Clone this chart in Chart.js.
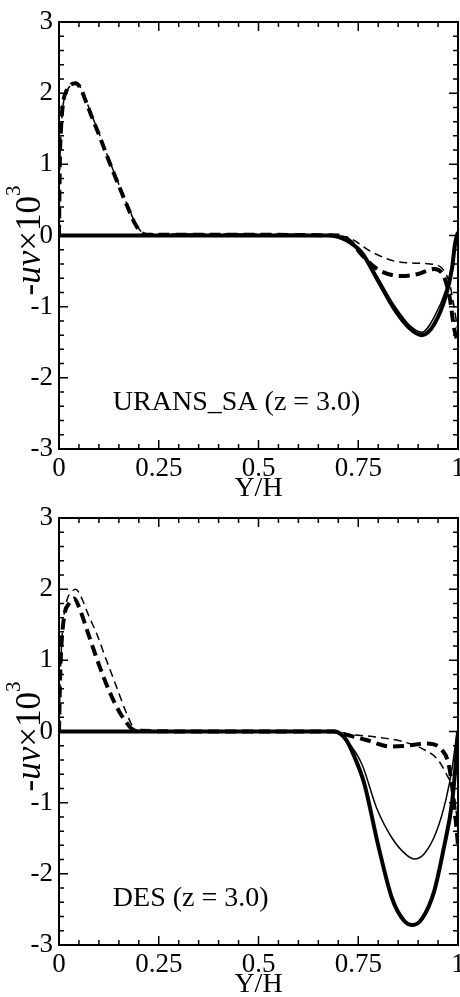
<!DOCTYPE html>
<html>
<head>
<meta charset="utf-8">
<script src="https://cdn.jsdelivr.net/npm/chart.js@4.4.1/dist/chart.umd.min.js"></script>
<style>
  html, body { margin: 0; padding: 0; background: #fff; }
  .panel { position: absolute; left: 0; width: 460px; height: 500px; }
</style>
</head>
<body>
<div class="panel" style="top:0"><canvas id="chartSA"></canvas></div>
<div class="panel" style="top:496px"><canvas id="chartDES"></canvas></div>
<script>
// Axis tick labels
const xTickLabels = ['0', '0.25', '0.5', '0.75', '1'];
const yTickLabels = ['-3', '-2', '-1', '0', '1', '2', '3'];

// URANS_SA profiles, -uv x 10^3 against Y/H
const saThickSolidX = [0, 0.2, 0.4, 0.6, 0.68, 0.71, 0.73, 0.76, 0.8, 0.84, 0.88, 0.91, 0.94, 0.97, 0.985, 0.993, 1.0];
const saThickSolidY = [0, 0, 0, 0, 0, -0.04, -0.1, -0.25, -0.64, -1.03, -1.31, -1.4, -1.25, -0.84, -0.46, -0.1, 0.05];
const saThinSolidX = [0, 0.2, 0.4, 0.6, 0.68, 0.71, 0.73, 0.76, 0.8, 0.84, 0.88, 0.91, 0.94, 0.97, 0.985, 0.995, 1.0];
const saThinSolidY = [0, 0, 0, 0, 0, -0.04, -0.1, -0.24, -0.6, -0.98, -1.27, -1.36, -1.15, -0.76, -0.42, -0.1, 0.05];
const saThickDashX = [0, 0.002, 0.005, 0.01, 0.02, 0.03, 0.042, 0.055, 0.065, 0.08, 0.1, 0.125, 0.15, 0.175, 0.19, 0.205, 0.22, 0.4, 0.7, 0.73, 0.76, 0.8, 0.86, 0.9, 0.94, 0.965, 0.98, 0.99, 1.0];
const saThickDashY = [0, 1.0, 1.5, 1.85, 2.05, 2.12, 2.14, 2.06, 1.92, 1.7, 1.42, 1.05, 0.7, 0.36, 0.17, 0.05, 0.01, 0.01, 0, -0.08, -0.28, -0.48, -0.57, -0.54, -0.47, -0.58, -0.9, -1.3, -1.5];
const saThinDashX = [0, 0.002, 0.005, 0.01, 0.02, 0.03, 0.042, 0.055, 0.065, 0.08, 0.1, 0.125, 0.15, 0.175, 0.19, 0.205, 0.22, 0.4, 0.7, 0.73, 0.78, 0.84, 0.9, 0.93, 0.96, 0.98, 0.99, 1.0];
const saThinDashY = [0, 0.95, 1.45, 1.82, 2.03, 2.11, 2.13, 2.07, 1.94, 1.72, 1.44, 1.07, 0.72, 0.38, 0.19, 0.06, 0.02, 0.02, 0, -0.04, -0.22, -0.36, -0.39, -0.4, -0.46, -0.7, -1.0, -1.35];

// DES profiles
const desThickSolidX = [0, 0.2, 0.4, 0.6, 0.69, 0.72, 0.74, 0.765, 0.8, 0.835, 0.865, 0.886, 0.91, 0.94, 0.965, 0.985, 0.995, 1.0];
const desThickSolidY = [0, 0, 0, 0, 0, -0.12, -0.35, -0.73, -1.6, -2.35, -2.66, -2.72, -2.63, -2.25, -1.62, -1.0, -0.4, 0];
const desThinSolidX = [0, 0.2, 0.4, 0.6, 0.69, 0.72, 0.76, 0.795, 0.835, 0.87, 0.89, 0.915, 0.945, 0.97, 0.986, 0.995, 1.0];
const desThinSolidY = [0, 0, 0, 0, 0, -0.12, -0.47, -1.06, -1.5, -1.73, -1.79, -1.72, -1.42, -0.95, -0.49, -0.12, 0.05];
const desThickDashX = [0, 0.003, 0.007, 0.015, 0.023, 0.032, 0.038, 0.05, 0.073, 0.1, 0.128, 0.153, 0.17, 0.18, 0.195, 0.4, 0.69, 0.71, 0.77, 0.83, 0.87, 0.92, 0.96, 0.978, 0.99, 1.0];
const desThickDashY = [0, 0.8, 1.29, 1.68, 1.78, 1.85, 1.87, 1.75, 1.38, 0.94, 0.54, 0.26, 0.12, 0.05, 0.01, 0, 0, -0.03, -0.12, -0.21, -0.2, -0.17, -0.26, -0.5, -1.0, -1.6];
const desThinDashX = [0, 0.004, 0.01, 0.02, 0.03, 0.042, 0.057, 0.075, 0.094, 0.119, 0.144, 0.169, 0.186, 0.2, 0.4, 0.7, 0.72, 0.8, 0.86, 0.91, 0.95, 0.97, 0.986, 1.0];
const desThinDashY = [0, 0.9, 1.5, 1.85, 1.95, 2.0, 1.87, 1.62, 1.38, 1.0, 0.63, 0.26, 0.06, 0.01, 0, 0, -0.03, -0.08, -0.14, -0.24, -0.4, -0.59, -0.8, -1.3];

const FONT = "'Liberation Serif', 'Times New Roman', serif";

function pts(xs, ys) {
  return xs.map((x, i) => ({ x: x, y: ys[i] }));
}

function line(xs, ys, width, dash) {
  return {
    data: pts(xs, ys),
    borderColor: '#000',
    borderWidth: width,
    borderDash: dash,
    pointRadius: 0,
    fill: false,
    cubicInterpolationMode: 'monotone'
  };
}

// Frame with inward ticks on all four sides, the case label and the y title
const framePlugin = {
  id: 'frame',
  afterDraw(chart, args, opts) {
    const ctx = chart.ctx;
    const a = chart.chartArea;
    const sx = chart.scales.x, sy = chart.scales.y;
    ctx.save();
    ctx.strokeStyle = '#000';
    ctx.lineWidth = 2;
    ctx.strokeRect(a.left, a.top, a.right - a.left, a.bottom - a.top);

    ctx.lineWidth = 1.5;
    ctx.beginPath();
    for (let i = 0; i <= 20; i++) {
      const px = sx.getPixelForValue(i * 0.05);
      const len = i % 5 === 0 ? 9 : 5;
      ctx.moveTo(px, a.bottom); ctx.lineTo(px, a.bottom - len);
      ctx.moveTo(px, a.top); ctx.lineTo(px, a.top + len);
    }
    for (let i = 0; i <= 30; i++) {
      const py = sy.getPixelForValue(-3 + i * 0.2);
      const len = i % 5 === 0 ? 9 : 5;
      ctx.moveTo(a.left, py); ctx.lineTo(a.left + len, py);
      ctx.moveTo(a.right, py); ctx.lineTo(a.right - len, py);
    }
    ctx.stroke();

    // case label
    ctx.fillStyle = '#000';
    ctx.font = '28px ' + FONT;
    ctx.textAlign = 'left';
    ctx.textBaseline = 'alphabetic';
    ctx.fillText(opts.label, sx.getPixelForValue(0.135), sy.getPixelForValue(-2.45));

    // rotated y title: -uv×10^3
    const parts = [
      { t: '-', f: '35px ' + FONT, dy: 0 },
      { t: 'uv', f: 'italic 35px ' + FONT, dy: 0 },
      { t: '\u00d710', f: '35px ' + FONT, dy: 0 },
      { t: '3', f: '21px ' + FONT, dy: -20 }
    ];
    let total = 0;
    parts.forEach(p => { ctx.font = p.f; p.w = ctx.measureText(p.t).width; total += p.w; });
    ctx.translate(40, (a.top + a.bottom) / 2 + 5);
    ctx.rotate(-Math.PI / 2);
    let x = -total / 2;
    parts.forEach(p => {
      ctx.font = p.f;
      ctx.fillText(p.t, x, p.dy);
      x += p.w;
    });
    ctx.restore();
  }
};

function makeChart(id, label, sets) {
  return new Chart(document.getElementById(id), {
    type: 'line',
    data: { datasets: sets },
    plugins: [framePlugin],
    options: {
      responsive: true,
      maintainAspectRatio: false,
      animation: false,
      events: [],
      layout: { padding: { top: 22, right: 2, left: 0, bottom: 0 } },
      plugins: {
        legend: { display: false },
        tooltip: { enabled: false },
        frame: { label: label }
      },
      scales: {
        x: {
          type: 'linear',
          min: 0,
          max: 1,
          grid: { display: false, drawTicks: false },
          border: { display: false },
          ticks: {
            stepSize: 0.25,
            autoSkip: false,
            maxRotation: 0,
            color: '#000',
            padding: 4,
            font: { family: FONT, size: 27 },
            callback: (v) => xTickLabels[Math.round(v * 4)]
          },
          title: {
            display: true,
            text: 'Y/H',
            color: '#000',
            padding: 0,
            font: { family: FONT, size: 28, lineHeight: 0.8 }
          },
          afterFit: (s) => { s.height = 51; s.paddingLeft = 0; s.paddingRight = 0; }
        },
        y: {
          min: -3,
          max: 3,
          grid: { display: false, drawTicks: false },
          border: { display: false },
          ticks: {
            stepSize: 1,
            autoSkip: false,
            color: '#000',
            padding: 6,
            font: { family: FONT, size: 27 },
            callback: (v) => yTickLabels[Math.round(v) + 3]
          },
          afterFit: (s) => { s.width = 59; s.paddingTop = 0; s.paddingBottom = 0; }
        }
      }
    }
  });
}

makeChart('chartSA', 'URANS_SA (z = 3.0)', [
  line(saThinDashX, saThinDashY, 1.5, [8, 5]),
  line(saThickDashX, saThickDashY, 4, [11, 6]),
  line(saThinSolidX, saThinSolidY, 1.5, []),
  line(saThickSolidX, saThickSolidY, 4, [])
]);

makeChart('chartDES', 'DES (z = 3.0)', [
  line(desThinDashX, desThinDashY, 1.5, [8, 5]),
  line(desThickDashX, desThickDashY, 4, [11, 6]),
  line(desThinSolidX, desThinSolidY, 1.5, []),
  line(desThickSolidX, desThickSolidY, 4, [])
]);
</script>
</body>
</html>
